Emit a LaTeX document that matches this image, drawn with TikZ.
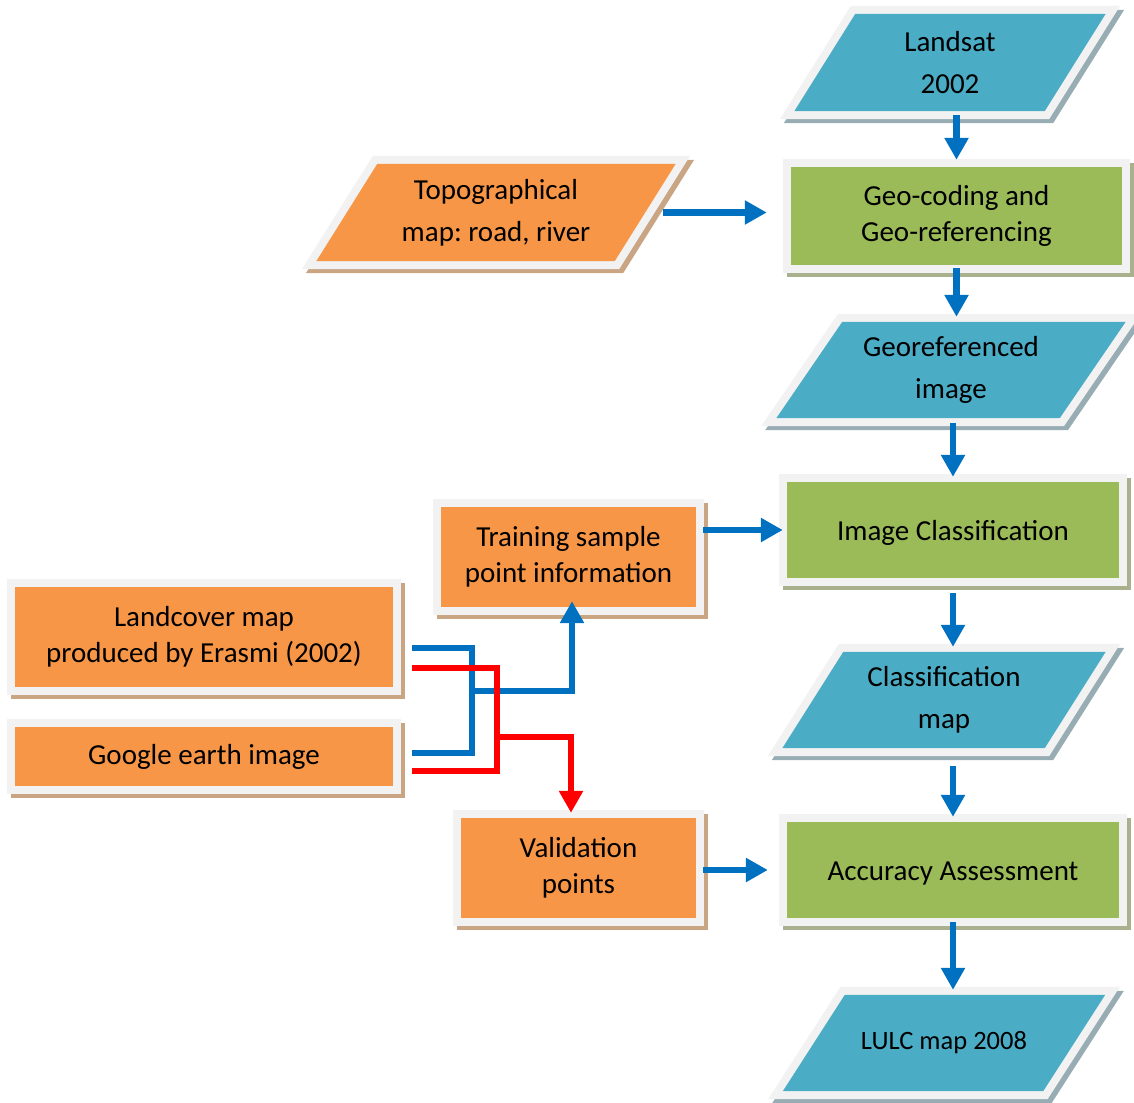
\documentclass[tikz,border=0pt]{standalone}
\usepackage{fontspec}
\setmainfont{Carlito}
\usetikzlibrary{arrows.meta,backgrounds}
\frenchspacing

\definecolor{tealfill}{HTML}{4BACC6}
\definecolor{orangefill}{HTML}{F79646}
\definecolor{greenfill}{HTML}{9BBB59}
\definecolor{rim}{HTML}{F2F2F2}
\definecolor{tealshade}{HTML}{98ADB3}
\definecolor{orangeshade}{HTML}{C9A584}
\definecolor{greenshade}{HTML}{A8B08E}
\definecolor{flowblue}{HTML}{0070C0}
\definecolor{flowred}{HTML}{FF0000}

\newcommand{\rectfont}{\fontsize{29pt}{36pt}\selectfont\frenchspacing}
\newcommand{\parafont}{\fontsize{29pt}{42pt}\selectfont\frenchspacing}

\tikzset{
  % light rim plus an offset shade behind every shape
  framed/.style={line join=miter,
    preaction={draw=#1, fill=#1, line width=16pt,
               transform canvas={shift={(4pt,-4pt)}}},
    preaction={draw=rim, line width=16pt}},
  procbox/.style={rectangle, inner sep=0pt, align=center,
    framed=greenshade, fill=greenfill, font=\rectfont},
  inputbox/.style={rectangle, inner sep=0pt, align=center,
    framed=orangeshade, fill=orangefill, font=\rectfont},
  % text holder of a slanted data shape; the slab itself is drawn behind it
  databox/.style={rectangle, inner sep=0pt, align=center, font=\parafont},
  lowtext/.style={text height=26pt, text depth=6pt},
  flowarrow/.style={draw=flowblue, line width=6.5pt,
    -{Triangle[width=23pt,length=22pt]}},
  feedline/.style={line width=6.5pt, line join=miter},
  feedtip/.style={-{Triangle[width=23pt,length=22pt]}},
}

\begin{document}
\begin{tikzpicture}[x=1pt,y=-1pt]
\useasboundingbox (0,0) rectangle (1134,1102);

% main column
\node[databox, minimum width=250pt, minimum height=97pt] (landsat) at (950,62.5) {Landsat\\2002};
\node[procbox, minimum width=331pt, minimum height=98pt] (geo) at (956.5,216) {Geo-coding and\\Geo-referencing};
\node[databox, minimum width=283pt, minimum height=96pt] (georef) at (951,370) {Georeferenced\\image};
\node[procbox, lowtext, minimum width=332pt, minimum height=96pt] (imgclass) at (953,530) {Image Classification};
\node[databox, minimum width=262pt, minimum height=96pt] (classmap) at (944,700) {Classification\\map};
\node[procbox, lowtext, minimum width=332pt, minimum height=96pt] (accuracy) at (953,870) {Accuracy Assessment};
\node[databox, minimum width=260pt, minimum height=96pt, font=\fontsize{26.5pt}{32pt}\selectfont] (lulc) at (944,1043) {LULC map 2008};

% side inputs
\node[databox, minimum width=298pt, minimum height=97pt] (topo) at (496,212.5) {Topographical\\map: road, river};
\node[inputbox, minimum width=255pt, minimum height=100pt] (training) at (568.5,557) {Training sample\\point information};
\node[inputbox, minimum width=235pt, minimum height=100pt] (validation) at (578.5,868) {Validation\\points};
\node[inputbox, minimum width=378pt, minimum height=100pt] (landcover) at (204,637) {Landcover map\\produced by Erasmi (2002)};
\node[inputbox, minimum width=378pt, minimum height=59pt] (google) at (204,756.5) {Google earth image};

% slanted data shapes behind their texts
\begin{scope}[on background layer]
  \foreach \n/\s/\f/\sh in {landsat/61/tealfill/tealshade,
                            georef/66/tealfill/tealshade,
                            classmap/61/tealfill/tealshade,
                            lulc/62/tealfill/tealshade,
                            topo/61/orangefill/orangeshade}
    \path[framed=\sh, fill=\f]
      ([xshift=-\s/2*1pt]\n.south west) -- ([xshift=-\s/2*1pt]\n.south east) --
      ([xshift=\s/2*1pt]\n.north east) -- ([xshift=\s/2*1pt]\n.north west) -- cycle;
\end{scope}

% vertical flow
\draw[flowarrow, shorten <=4pt, shorten >=7pt] (landsat.south -| geo.north) -- (geo.north);
\draw[flowarrow, shorten <=3pt, shorten >=5pt] (geo.south) -- (geo.south |- georef.north);
\draw[flowarrow, shorten <=5pt, shorten >=5pt] (imgclass.north |- georef.south) -- (imgclass.north);
\draw[flowarrow, shorten <=15pt, shorten >=5pt] (imgclass.south) -- (imgclass.south |- classmap.north);
\draw[flowarrow, shorten <=18pt, shorten >=5pt] (accuracy.north |- classmap.south) -- (accuracy.north);
\draw[flowarrow, shorten <=4pt, shorten >=5pt] (accuracy.south) -- (accuracy.south |- lulc.north);

% horizontal inputs
\draw[flowarrow, shorten <=18pt, shorten >=24pt] (topo.east) -- (topo.east -| geo.west);
\draw[flowarrow, shorten <=7pt, shorten >=4pt] (training.east |- imgclass.west) -- (imgclass.west);
\draw[flowarrow, shorten <=7pt, shorten >=19pt] (validation.east |- accuracy.west) -- (accuracy.west);

% reference data split into training and validation sets
\coordinate (bluejoin) at (472,691);
\coordinate (redjoin) at (497,737);
\draw[feedline, draw=flowblue] ([shift={(19,11)}]landcover.east) -| (bluejoin);
\draw[feedline, draw=flowblue] ([shift={(19,-3.5)}]google.east) -| (bluejoin);
\draw[feedline, feedtip, draw=flowblue, shorten >=-6pt] (bluejoin) -| ([xshift=3.5pt]training.south);
\draw[feedline, draw=flowred] ([shift={(19,31)}]landcover.east) -| (redjoin);
\draw[feedline, draw=flowred] ([shift={(19,14.5)}]google.east) -| (redjoin);
\draw[feedline, feedtip, draw=flowred, shorten >=5pt] (redjoin) -| ([xshift=-7.5pt]validation.north);
\end{tikzpicture}
\end{document}
